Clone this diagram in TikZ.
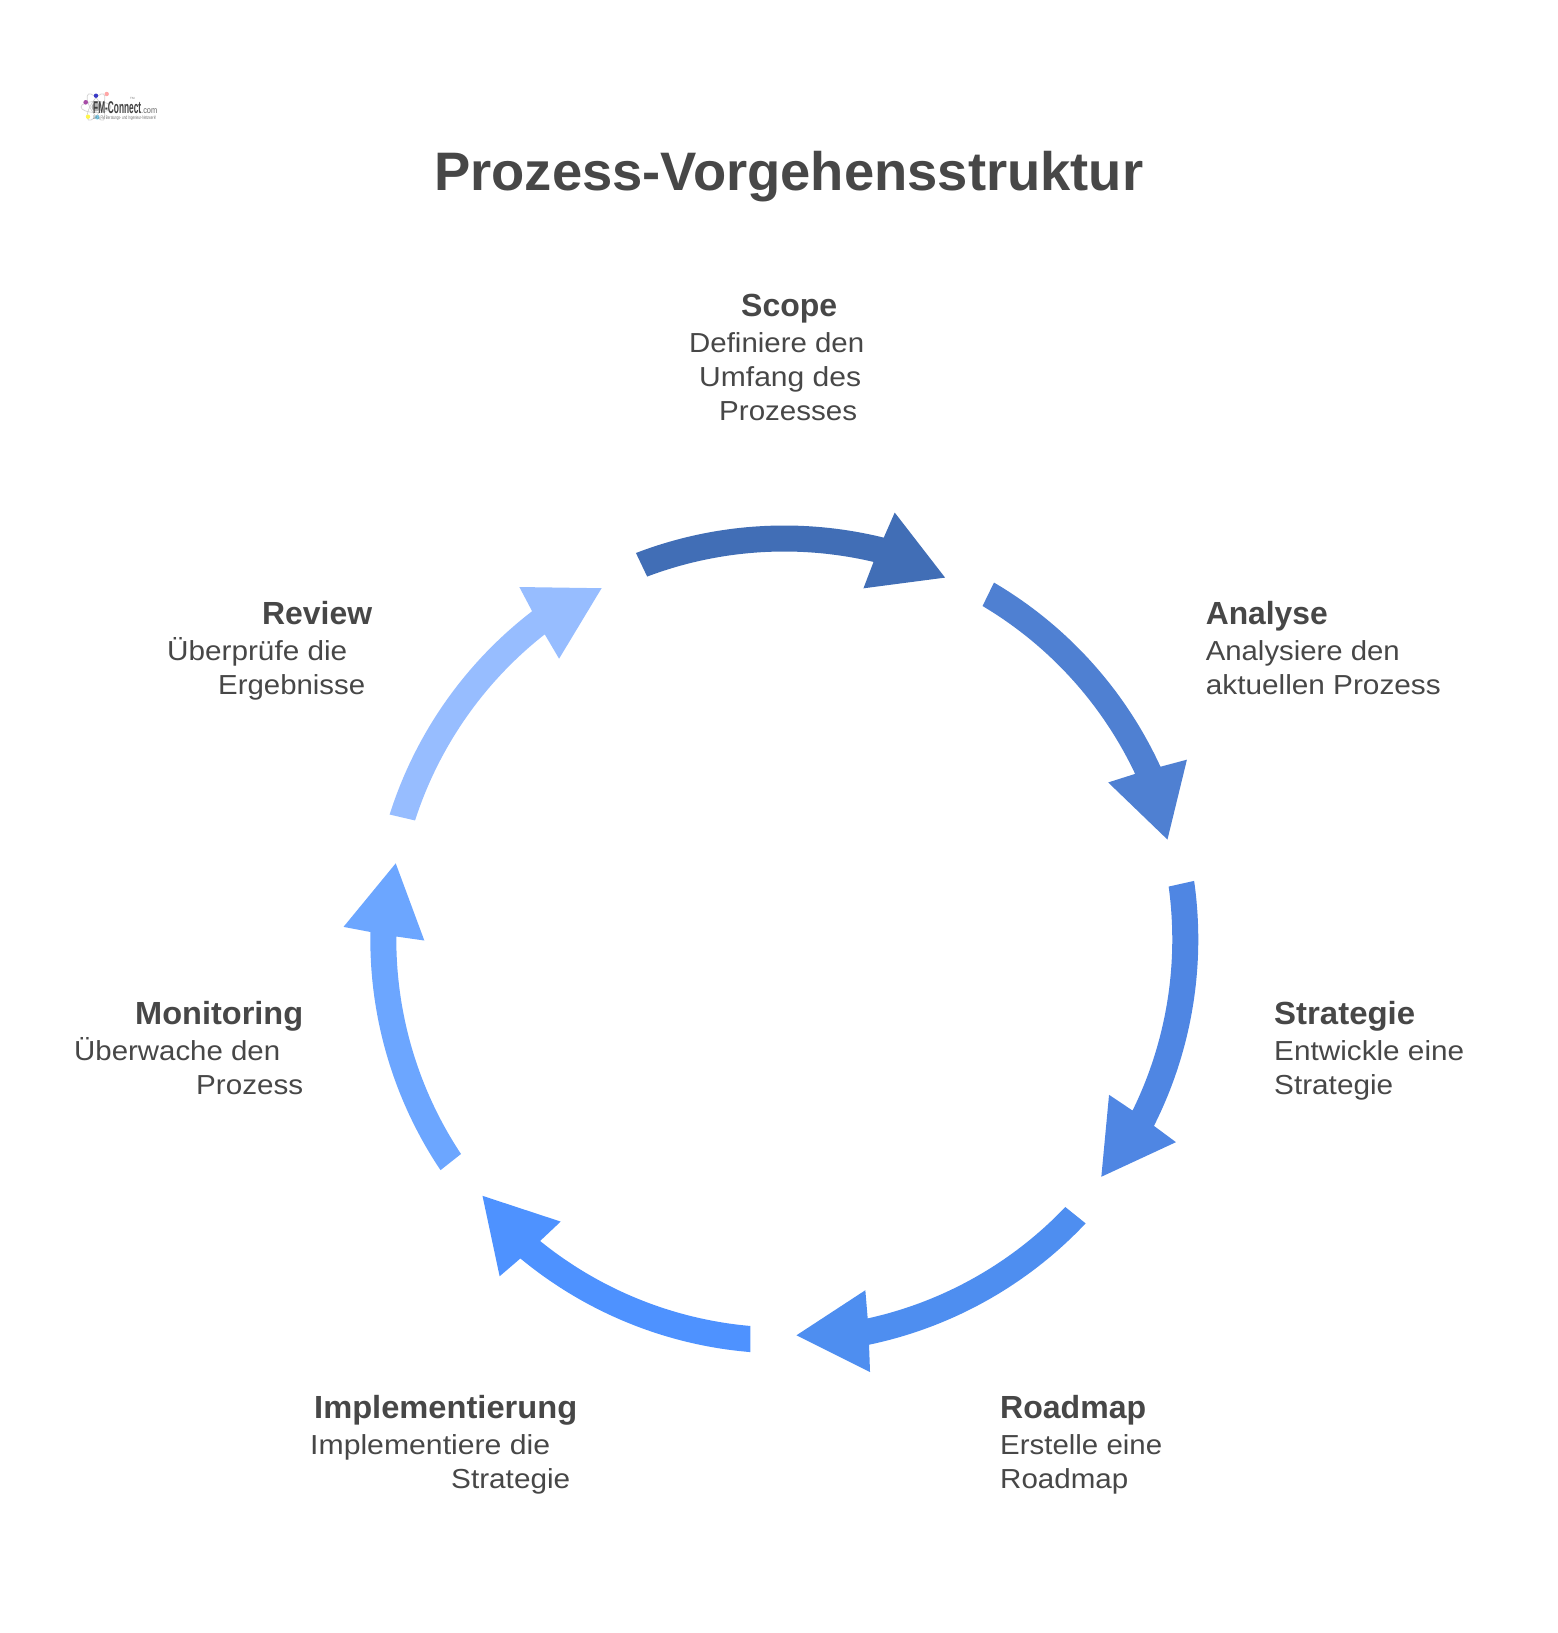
\documentclass[tikz,border=0pt]{standalone}
\usepackage{fontspec}
\usepackage{graphicx}
\setmainfont{Liberation Sans}
\definecolor{txt}{HTML}{474747}
\definecolor{arA}{HTML}{416EB6}
\definecolor{arB}{HTML}{4F80D2}
\definecolor{arC}{HTML}{4F86E3}
\definecolor{arD}{HTML}{4E8EF0}
\definecolor{arE}{HTML}{4E92FF}
\definecolor{arF}{HTML}{6CA6FF}
\definecolor{arG}{HTML}{97BDFF}
\newcommand{\fitw}[2]{\resizebox{#1pt}{\height}{#2}}
\newcommand{\ringarrow}[2]{%
  \begin{scope}[shift={(784.3,-939.5)},rotate=#1]
    \fill[#2] (111:414pt) arc[start angle=111,end angle=76.1,radius=414pt]
      -- (75.5:441pt) -- (66.05:396pt) -- (77.3:360pt) -- (76.7:388pt)
      arc[start angle=76.7,end angle=110.7,radius=388pt] -- cycle;
  \end{scope}}
\tikzset{
  titletext/.style={inner sep=0pt,anchor=base west,text=txt,font=\fontsize{54.2}{60}\selectfont\bfseries},
  headtext/.style={inner sep=0pt,anchor=base west,text=txt,font=\fontsize{32}{36}\selectfont\bfseries},
  bodytext/.style={inner sep=0pt,anchor=base west,text=txt,font=\fontsize{27.5}{34}\selectfont},
  logoring/.style={draw=black!18,line width=0.7pt},
}
\begin{document}
\begin{tikzpicture}[x=1pt,y=1pt]
\useasboundingbox (0,0) rectangle (1558,-1633);
% logo
\foreach \a in {0,60,120}{\draw[logoring] (96,-107) ellipse[x radius=15,y radius=5.5,rotate=\a];}
\fill[black!30] (96,-107) circle (4.5);
\fill[violet!70] (85.7,-102.3) circle (2.3);
\fill[blue!55!gray] (96,-95.7) circle (2.2);
\fill[red!35] (106.7,-94) circle (2.2);
\fill[yellow!70] (88,-116.7) circle (2.2);
\fill[cyan!55] (97.3,-117.3) circle (2.2);
\node[inner sep=0pt,anchor=base west,text=black!75,font=\fontsize{17}{17}\selectfont\bfseries] (logoname) at (93,-113) {\fitw{48}{FM-Connect}};
\node[inner sep=0pt,anchor=base west,text=black!60,font=\fontsize{9}{9}\selectfont] (logocom) at (141,-113) {\fitw{16}{.com}};
\node[inner sep=0pt,anchor=base west,text=black!55,font=\fontsize{3}{3}\selectfont] (logotm) at (130,-99) {TM};
\node[inner sep=0pt,anchor=base west,text=black!55,font=\fontsize{5}{5}\selectfont] (logosub) at (93,-119) {\fitw{63}{DAS FM Beratungs- und Ingenieur-Netzwerk!}};
% title
\node[titletext] (title) at (434,-190) {\fitw{709}{Prozess-Vorgehensstruktur}};
% arrows
\ringarrow{0}{arA}
\ringarrow{-51.43}{arB}
\ringarrow{-102.86}{arC}
\ringarrow{-154.29}{arD}
\ringarrow{-205.71}{arE}
\ringarrow{-257.14}{arF}
\ringarrow{-308.57}{arG}
% Scope
\node[headtext] (scopeh) at (741,-316) {\fitw{96}{Scope}};
\node[bodytext] (scopea) at (689,-352) {\fitw{175}{Definiere den}};
\node[bodytext] (scopeb) at (699,-386) {\fitw{162}{Umfang des}};
\node[bodytext] (scopec) at (719,-420) {\fitw{138}{Prozesses}};
% Analyse
\node[headtext] (anah) at (1205.6,-624) {\fitw{122}{Analyse}};
\node[bodytext] (anaa) at (1205.6,-660) {\fitw{194}{Analysiere den}};
\node[bodytext] (anab) at (1205.6,-694.5) {\fitw{235}{aktuellen Prozess}};
% Strategie
\node[headtext] (strh) at (1274,-1024.5) {\fitw{141}{Strategie}};
\node[bodytext] (stra) at (1274,-1060) {\fitw{190}{Entwickle eine}};
\node[bodytext] (strb) at (1274,-1094.5) {\fitw{119}{Strategie}};
% Roadmap
\node[headtext] (roadh) at (1000,-1418) {\fitw{146}{Roadmap}};
\node[bodytext] (roada) at (1000,-1454) {\fitw{162}{Erstelle eine}};
\node[bodytext] (roadb) at (1000,-1488.5) {\fitw{128}{Roadmap}};
% Implementierung
\node[headtext] (imph) at (314,-1418) {\fitw{263}{Implementierung}};
\node[bodytext] (impa) at (310,-1454) {\fitw{240}{Implementiere die}};
\node[bodytext] (impb) at (451,-1488.5) {\fitw{119}{Strategie}};
% Monitoring
\node[headtext] (monh) at (135,-1024.5) {\fitw{168}{Monitoring}};
\node[bodytext] (mona) at (74,-1060) {\fitw{206}{Überwache den}};
\node[bodytext] (monb) at (196,-1094.5) {\fitw{107}{Prozess}};
% Review
\node[headtext] (revh) at (262,-624) {\fitw{110}{Review}};
\node[bodytext] (reva) at (167,-660) {\fitw{180}{Überprüfe die}};
\node[bodytext] (revb) at (218,-694.5) {\fitw{147}{Ergebnisse}};
\end{tikzpicture}
\end{document}
